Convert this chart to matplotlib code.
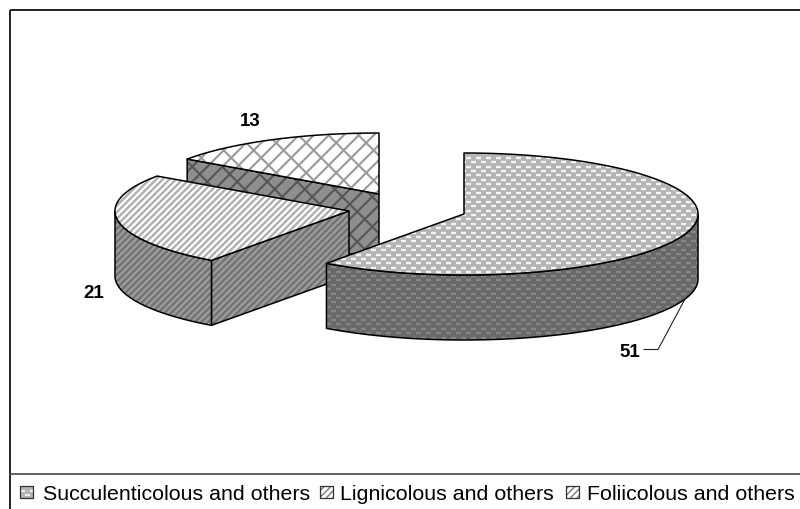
import numpy as np
import matplotlib
matplotlib.use("Agg")
import matplotlib.pyplot as plt
from matplotlib.patches import Polygon
from matplotlib.collections import LineCollection

categories = ["Succulenticolous and others", "Lignicolous and others", "Foliicolous and others"]
values = [51, 21, 13]

plt.rcParams['font.family'] = ['Liberation Sans', 'DejaVu Sans']
W, H = 800, 510
fig = plt.figure(figsize=(W/100, H/100), dpi=100)
ax = fig.add_axes([0, 0, 1, 1])
ax.set_xlim(0, W); ax.set_ylim(H, 0); ax.axis('off')

RX, RY, DEPTH = 234, 61, 65
centers = [(464, 215), (349, 212), (379, 195)]
lw_px = 1.1

total = sum(values)
edges = np.cumsum([0] + values) / total * 360.0

def rim(c, a, dy=0):
    a = np.radians(a)
    return np.column_stack([c[0] + RX*np.sin(a), c[1] - RY*np.cos(a) + dy])

def arc(c, a0, a1, dy=0):
    return rim(c, np.linspace(a0, a1, 120), dy)

def stripes(box):
    x0, y0, x1, y1 = box
    segs = []
    step = 6.6
    for k in np.arange(np.floor((x0 + y0) / step), np.ceil((x1 + y1) / step) + 1):
        s = k * step
        segs.append([(s - y0, y0), (s - y1, y1)])
    return segs

def dashes(box):
    x0, y0, x1, y1 = box
    segs = []
    for r, y in enumerate(np.arange(y0 - 4, y1 + 4, 4.4)):
        off = 5 if r % 2 else 0
        for x in np.arange(x0 - 10, x1 + 10, 10):
            segs.append([(x + off, y), (x + off + 4.6, y)])
    return segs

def bricks(box):
    x0, y0, x1, y1 = box
    segs = []
    sp = 15
    # long lines run up-right, short bars bridge neighbouring lines
    for i in range(int((x0 + y0) // sp) - 1, int((x1 + y1) // sp) + 2):
        s = i * sp
        segs.append([(s - y0, y0), (s - y1, y1)])
        off = (i % 2) * sp / 2
        for t in np.arange(x0 - (y1 - y0) - 2*sp, x1 + (y1 - y0) + 2*sp, sp):
            bx = t + off
            by = s - bx
            if y0 - sp <= by <= y1 + sp:
                segs.append([(bx, by), (bx + sp/2, by + sp/2)])
    return segs

def shape(verts, face, tex=None, col=None, tlw=1.0, edge='black', lw=lw_px, z=1):
    verts = np.asarray(verts)
    p = Polygon(verts, closed=True, facecolor=face, edgecolor='none', zorder=z)
    ax.add_patch(p)
    if tex is not None:
        box = (verts[:,0].min(), verts[:,1].min(), verts[:,0].max(), verts[:,1].max())
        lc = LineCollection(tex(box), colors=col, linewidths=tlw, zorder=z, capstyle='butt')
        ax.add_collection(lc)
        lc.set_clip_path(p)
    ax.add_patch(Polygon(verts, closed=True, facecolor='none', edgecolor=edge,
                         linewidth=lw, joinstyle='round', zorder=z))

TOP = [('#b4b4b4', dashes, '#f4f4f4', 1.7),
       ('white', stripes, '#b0b0b0', 1.7),
       ('white', bricks, '#9a9a9a', 1.5)]
SIDE = [('#686868', dashes, '#868686', 1.7),
        ('#727272', stripes, '#9c9c9c', 1.7),
        ('#8e8e8e', bricks, '#555555', 1.5)]

def radial_face(i, a, z):
    c = centers[i]
    e = rim(c, a)[0]
    f, t, k, w = SIDE[i]
    shape([c, e, e + [0, DEPTH], (c[0], c[1] + DEPTH)], f, t, k, w, z=z)

def rim_face(i, a0, a1, z):
    c = centers[i]
    f, t, k, w = SIDE[i]
    shape(np.vstack([arc(c, a0, a1), arc(c, a1, a0, DEPTH)]), f, t, k, w, z=z)

def top_face(i, z):
    c = centers[i]
    f, t, k, w = TOP[i]
    shape(np.vstack([[c], arc(c, edges[i], edges[i+1])]), f, t, k, w, z=z)

# back to front: third, second, first slice
radial_face(2, edges[2], 2); top_face(2, 3)
radial_face(1, edges[1], 4); rim_face(1, edges[1], 270, 4); top_face(1, 5)
rim_face(0, 90, edges[1], 6); top_face(0, 7)

# labels and leader
lab = dict(fontsize=13.5, fontweight='bold', ha='center', va='center', color='black', zorder=10)
ax.text(250, 122, str(values[2]), **lab)
ax.text(94, 294, str(values[1]), **lab)
ax.text(630, 353, str(values[0]), **lab)
ax.plot([644, 658, 685], [350.5, 350.5, 300], color='#222222', lw=0.8, zorder=9)

# frame
frame = dict(color='#222222', lw=1.4, solid_capstyle='butt', zorder=11)
ax.plot([10, 800], [11, 11], **frame)
ax.plot([10, 10], [11, 510], **frame)
ax.plot([10, 800], [475, 475], color='#444444', lw=1.2, zorder=11)

# legend
text_x = [43, 340, 587]
swatch_x = [20, 320, 566]
for i, name in enumerate(categories):
    x = swatch_x[i]
    f, t, k, w = TOP[i]
    shape([(x, 487), (x + 13, 487), (x + 13, 499), (x, 499)], f,
          stripes if i else dashes, '#8a8a8a' if i else 'white', 1.2, edge='#333333', lw=0.9, z=12)
    ax.text(text_x[i], 495, name, fontsize=15.4, ha='left', va='center', color='black', zorder=12)

fig.savefig("out.png", dpi=100)
